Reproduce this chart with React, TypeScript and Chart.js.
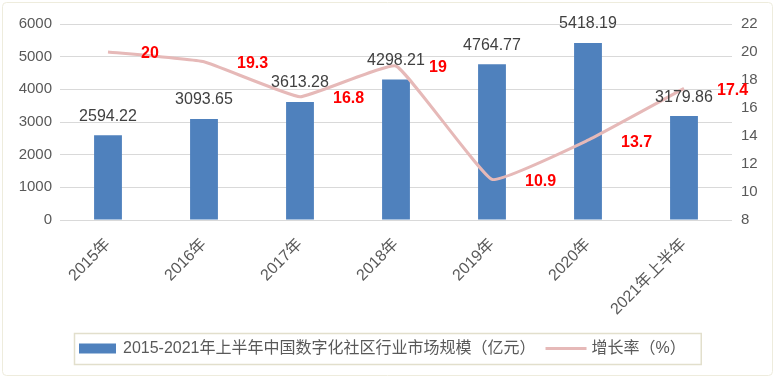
import React, { useEffect, useRef } from "react";
import { Chart, registerables } from "chart.js";

Chart.register(...registerables);

const categories = ["2015年", "2016年", "2017年", "2018年", "2019年", "2020年", "2021年上半年"];
const marketSize = [2594.22, 3093.65, 3613.28, 4298.21, 4764.77, 5418.19, 3179.86];
const growthRate = [20, 19.3, 16.8, 19, 10.9, 13.7, 17.4];
const barSeriesName = "2015-2021年上半年中国数字化社区行业市场规模（亿元）";
const lineSeriesName = "增长率（%）";

const FONT = '"Liberation Sans", "Noto Sans CJK SC", sans-serif';
const BAR_COLOR = "#4F81BD";
const LINE_COLOR = "#E6B9B8";

const decor = {
  id: "decor",
  beforeDraw(chart: any) {
    const ctx = chart.ctx as CanvasRenderingContext2D;
    ctx.save();
    ctx.fillStyle = "#ffffff";
    ctx.fillRect(0, 0, chart.width, chart.height);
    ctx.strokeStyle = "#EEECDD";
    ctx.lineWidth = 1;
    ctx.beginPath();
    (ctx as any).roundRect(2.5, 2.5, 770, 373, 4);
    ctx.stroke();
    ctx.restore();
  },
  afterDatasetsDraw(chart: any) {
    const ctx = chart.ctx as CanvasRenderingContext2D;
    ctx.save();
    const barMeta = chart.getDatasetMeta(0);
    ctx.font = `16px ${FONT}`;
    ctx.fillStyle = "#404040";
    ctx.textAlign = "center";
    ctx.textBaseline = "middle";
    barMeta.data.forEach((el: any, i: number) => {
      ctx.fillText(marketSize[i].toFixed(2), el.x, el.y - 19);
    });
    const lineMeta = chart.getDatasetMeta(1);
    ctx.font = `bold 16px ${FONT}`;
    ctx.fillStyle = "#FF0000";
    ctx.textAlign = "left";
    lineMeta.data.forEach((el: any, i: number) => {
      ctx.fillText(String(growthRate[i]), el.x + 33, el.y + 2);
    });
    ctx.restore();
  },
  afterDraw(chart: any) {
    const ctx = chart.ctx as CanvasRenderingContext2D;
    ctx.save();
    ctx.font = `16px ${FONT}`;
    const t1 = chart.data.datasets[0].label as string;
    const t2 = chart.data.datasets[1].label as string;
    const w1 = ctx.measureText(t1).width;
    const w2 = ctx.measureText(t2).width;
    const padL = 5, rectW = 37, gap1 = 7, gap2 = 10, lineW = 41, gap3 = 5, padR = 15;
    const total = padL + rectW + gap1 + w1 + gap2 + lineW + gap3 + w2 + padR;
    const x0 = Math.round(chart.width / 2 - total / 2) - 2;
    const yTop = 333, h = 31;
    const cy = yTop + h / 2;
    ctx.strokeStyle = "#E2DFCC";
    ctx.lineWidth = 1.5;
    ctx.strokeRect(x0 + 0.5, yTop + 0.5, total, h);
    let x = x0 + padL;
    ctx.fillStyle = BAR_COLOR;
    ctx.fillRect(x, cy - 5, rectW, 10);
    x += rectW + gap1;
    ctx.fillStyle = "#595959";
    ctx.textAlign = "left";
    ctx.textBaseline = "middle";
    ctx.fillText(t1, x, cy);
    x += w1 + gap2;
    ctx.strokeStyle = LINE_COLOR;
    ctx.lineWidth = 3;
    ctx.beginPath();
    ctx.moveTo(x, cy);
    ctx.lineTo(x + lineW, cy);
    ctx.stroke();
    x += lineW + gap3;
    ctx.fillText(t2, x, cy);
    ctx.restore();
  },
};

export default function App() {
  const ref = useRef<HTMLCanvasElement>(null);
  useEffect(() => {
    if (!ref.current) return;
    const chart = new Chart(ref.current, {
      type: "bar",
      data: {
        labels: categories,
        datasets: [
          {
            type: "bar",
            label: barSeriesName,
            data: marketSize,
            backgroundColor: BAR_COLOR,
            barPercentage: 0.29,
            categoryPercentage: 1,
            yAxisID: "y",
            order: 2,
          },
          {
            type: "line",
            label: lineSeriesName,
            data: growthRate,
            borderColor: LINE_COLOR,
            backgroundColor: LINE_COLOR,
            borderWidth: 3,
            pointRadius: 0,
            tension: 0.1,
            yAxisID: "y1",
            order: 1,
          } as any,
        ],
      },
      options: {
        responsive: false,
        animation: false,
        devicePixelRatio: 1,
        layout: { padding: { top: 24, left: 0, right: 0, bottom: 0 } },
        plugins: {
          legend: { display: false },
          tooltip: { enabled: false },
        },
        scales: {
          x: {
            grid: { display: false, drawTicks: false },
            border: { display: false },
            ticks: {
              minRotation: 45,
              maxRotation: 45,
              padding: 15,
              color: "#595959",
              font: { family: FONT, size: 16 },
            },
            afterFit(scale: any) {
              scale.height = 159;
            },
          },
          y: {
            position: "left",
            min: 0,
            max: 6000,
            ticks: {
              stepSize: 1000,
              padding: 8,
              color: "#595959",
              font: { family: FONT, size: 15 },
              callback: (v: any) => String(v),
            },
            grid: { color: "#D9D9D9", lineWidth: 1, drawTicks: false },
            border: { display: false },
            afterFit(scale: any) {
              scale.width = 60;
            },
          },
          y1: {
            position: "right",
            min: 8,
            max: 22,
            ticks: {
              stepSize: 2,
              padding: 9,
              color: "#595959",
              font: { family: FONT, size: 15 },
              callback: (v: any) => String(v),
            },
            grid: { display: false, drawTicks: false },
            border: { display: false },
            afterFit(scale: any) {
              scale.width = 47;
            },
          },
        },
      },
      plugins: [decor],
    });
    return () => chart.destroy();
  }, []);
  return (
    <div style={{ position: "absolute", left: 0, top: 0, width: 779, height: 379 }}>
      <canvas ref={ref} width={779} height={379} style={{ display: "block" }} />
    </div>
  );
}
